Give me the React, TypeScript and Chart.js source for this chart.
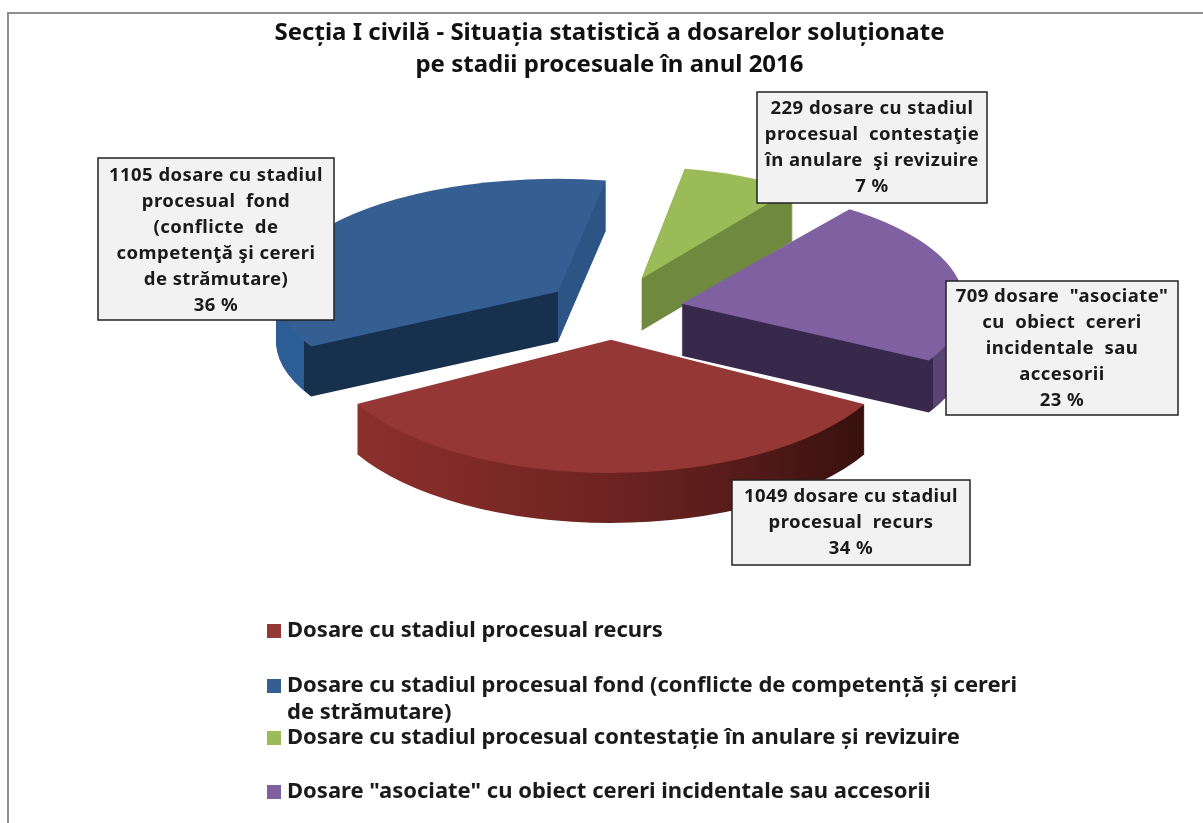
import React, { useEffect, useRef } from "react";
import { Chart, registerables } from "chart.js";

Chart.register(...registerables);

const titleLines = [
  "Secția I civilă - Situația statistică a dosarelor soluționate",
  "pe stadii procesuale în anul 2016",
];
const categories = [
  "Dosare cu stadiul procesual recurs",
  "Dosare cu stadiul procesual fond (conflicte de competență și cereri de strămutare)",
  "Dosare cu stadiul procesual contestație în anulare și revizuire",
  'Dosare "asociate" cu obiect cereri incidentale sau accesorii',
];
const legendLines = [
  ["Dosare cu stadiul procesual recurs"],
  ["Dosare cu stadiul procesual fond (conflicte de competență și cereri", "de strămutare)"],
  ["Dosare cu stadiul procesual contestație în anulare și revizuire"],
  ['Dosare "asociate" cu obiect cereri incidentale sau accesorii'],
];
const values = [1049, 1105, 229, 709];
const percents = [34, 36, 7, 23];
const labelBodies = [
  ["dosare cu stadiul", "procesual  recurs"],
  ["dosare cu stadiul", "procesual  fond", "(conflicte  de", "competenţă şi cereri", "de strămutare)"],
  ["dosare cu stadiul", "procesual  contestaţie", "în anulare  şi revizuire"],
  ['dosare  "asociate"', "cu  obiect  cereri", "incidentale  sau", "accesorii"],
];
const topColors = ["#953735", "#355E92", "#9BBB59", "#7F60A1"];

// Look of the tilted, exploded pie (not data).
const PIE_X = 611;
const PIE_Y = 310;
const BASE_R = 290;
const sliceDepth = [50, 50, 52, 52];
const sliceScaleX = [1, 0.972, 0.879, 0.975];
const sliceScaleY = [0.459, 0.39, 0.385, 0.405];
const sliceExplode = [65, 67, 88, 74];
const sliceNudgeY = [0, -3, 0, 0];
const drawOrder = [2, 1, 3, 0];
const sideStops: [number, string][][] = [
  [[-0.9, "#8C302D"], [-0.35, "#7A2825"], [0.1, "#692220"], [0.5, "#521A18"], [0.88, "#36100E"]],
  [[-1, "#2D5D95"], [-0.9, "#2D5D95"], [-0.9, "#16304E"], [0, "#16304E"], [0, "#2C5485"], [1, "#2C5485"]],
  [[-1, "#6F8A3E"], [1, "#6F8A3E"]],
  [[-1, "#38294C"], [0.89, "#38294C"], [0.89, "#5A4473"], [1, "#5A4473"]],
];
const labelBoxes = [
  { x: 732, y: 480, w: 238, h: 85, first: 497 },
  { x: 98, y: 158, w: 236, h: 162, first: 176 },
  { x: 757, y: 92, w: 230, h: 111, first: 109 },
  { x: 946, y: 281, w: 232, h: 134, first: 297 },
];
const LABEL_LEAD = 26;
const legendRows = [631, 686, 738, 792];
const LEGEND_LEAD = 27;
const FONT_FAMILY = "'Noto Sans'";
const LABEL_FONT = `bold 18.5px ${FONT_FAMILY}`;
const LABEL_SPACING = "0.45px";
const LEGEND_FONT = `bold 22px ${FONT_FAMILY}`;

const pie3d = {
  id: "pie3d",
  beforeDraw(chart: any) {
    const c = chart.ctx;
    c.save();
    c.fillStyle = "#ffffff";
    c.fillRect(0, 0, chart.width, chart.height);
    c.fillStyle = "#8E8E8E";
    c.fillRect(7, 12, chart.width - 7, 2);
    c.fillRect(7, 12, 2, chart.height - 12);
    c.restore();
  },
  beforeDatasetDraw(chart: any) {
    const c = chart.ctx;
    const arcs = chart.getDatasetMeta(0).data;
    for (const i of drawOrder) {
      const arc = arcs[i];
      const mid = (arc.startAngle + arc.endAngle) / 2;
      const tx = PIE_X + sliceScaleX[i] * sliceExplode[i] * Math.cos(mid);
      const ty = PIE_Y + sliceScaleY[i] * sliceExplode[i] * Math.sin(mid) + sliceNudgeY[i];
      const original = arc.options;
      const grad = c.createLinearGradient(arc.x - BASE_R, 0, arc.x + BASE_R, 0);
      for (const [f, col] of sideStops[i]) grad.addColorStop((f + 1) / 2, col);
      arc.options = { ...original, backgroundColor: grad, borderWidth: 0 };
      for (let d = sliceDepth[i]; d >= 1; d--) {
        c.save();
        c.translate(tx, ty + d);
        c.scale(sliceScaleX[i], sliceScaleY[i]);
        c.translate(-arc.x, -arc.y);
        arc.draw(c);
        c.restore();
      }
      arc.options = { ...original, borderWidth: 0 };
      c.save();
      c.translate(tx, ty);
      c.scale(sliceScaleX[i], sliceScaleY[i]);
      c.translate(-arc.x, -arc.y);
      arc.draw(c);
      c.restore();
      arc.options = original;
    }
    return false;
  },
  afterDraw(chart: any) {
    const c = chart.ctx;
    c.save();
    c.textAlign = "center";
    c.textBaseline = "middle";
    labelBoxes.forEach((b, i) => {
      c.fillStyle = "#F2F2F2";
      c.strokeStyle = "#222222";
      c.lineWidth = 1.5;
      c.fillRect(b.x, b.y, b.w, b.h);
      c.strokeRect(b.x, b.y, b.w, b.h);
      const lines = [...labelBodies[i], `${percents[i]} %`];
      lines[0] = `${values[i]} ${lines[0]}`;
      c.fillStyle = "#1a1a1a";
      c.font = LABEL_FONT;
      c.letterSpacing = LABEL_SPACING;
      lines.forEach((t, j) => c.fillText(t, b.x + b.w / 2, b.first + j * LABEL_LEAD));
    });
    c.letterSpacing = "0px";
    c.textAlign = "left";
    c.font = LEGEND_FONT;
    legendLines.forEach((rows, i) => {
      const y = legendRows[i];
      c.fillStyle = topColors[i];
      c.fillRect(267, y - 7, 14, 14);
      c.fillStyle = "#1a1a1a";
      rows.forEach((t, j) => c.fillText(t, 287, y + j * LEGEND_LEAD));
    });
    c.restore();
  },
};

export default function App() {
  const ref = useRef<HTMLCanvasElement>(null);
  useEffect(() => {
    const chart = new Chart(ref.current as HTMLCanvasElement, {
      type: "pie",
      data: {
        labels: categories,
        datasets: [{ data: values, backgroundColor: topColors, borderWidth: 0, clip: false } as any],
      },
      options: {
        animation: false,
        responsive: false,
        rotation: 119,
        radius: BASE_R,
        layout: { padding: { left: 16 } },
        plugins: {
          legend: { display: false },
          tooltip: { enabled: false },
          title: {
            display: true,
            text: titleLines,
            color: "#111111",
            font: { family: FONT_FAMILY, size: 24, weight: "bold", lineHeight: 1.33 },
            padding: { top: 17, bottom: 4 },
          } as any,
        },
      } as any,
      plugins: [pie3d],
    });
    return () => chart.destroy();
  }, []);
  return (
    <canvas
      ref={ref}
      width={1203}
      height={823}
      style={{ position: "absolute", left: 0, top: 0, display: "block" }}
    />
  );
}
